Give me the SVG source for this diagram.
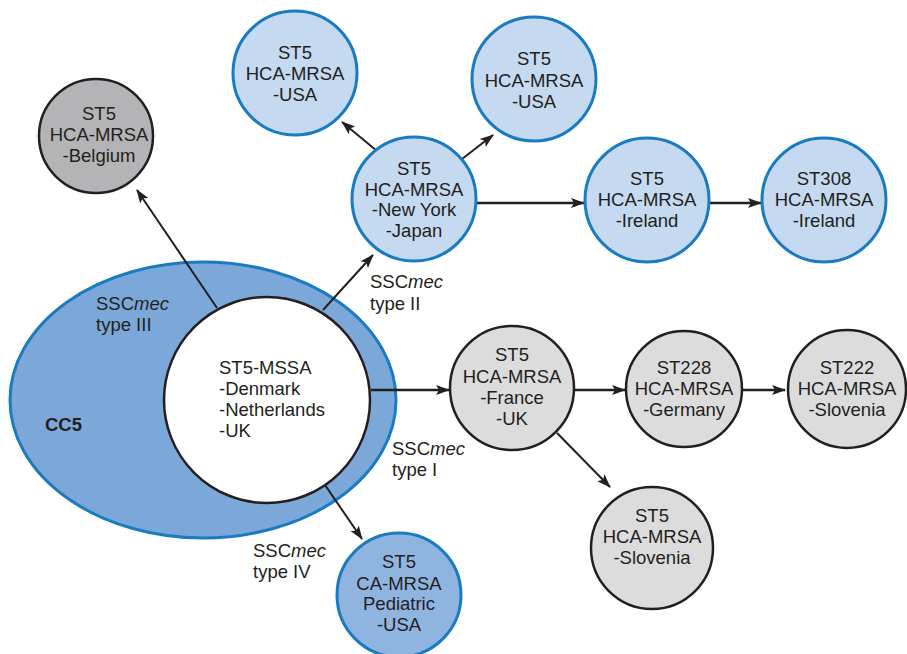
<svg xmlns="http://www.w3.org/2000/svg" width="907" height="654" viewBox="0 0 907 654">
  <style>
    text { font-family: "Liberation Sans", Arial, sans-serif; font-size: 18.5px; fill: #231f20; }
    .c { text-anchor: middle; }
    .bold { font-weight: bold; }
    .blue { fill: #c5d9f0; stroke: #1a7bc0; stroke-width: 3; }
    .mid { fill: #8fb4e0; stroke: #1a7bc0; stroke-width: 3; }
    .gray { fill: #dcdcdd; stroke: #231f20; stroke-width: 2.5; }
    .dark { fill: #b4b4b6; stroke: #231f20; stroke-width: 2.5; }
    .edge { stroke: #231f20; stroke-width: 2; fill: none; marker-end: url(#arrow); }
    .thick { stroke-width: 2.6; }
  </style>
  <defs>
    <marker id="arrow" markerUnits="userSpaceOnUse" markerWidth="14" markerHeight="12" viewBox="0 0 14 12" refX="13" refY="6" orient="auto">
      <path d="M0,1 L14,6 L0,11 L3,6 z" fill="#231f20"/>
    </marker>
  </defs>

  <!-- clonal complex 5 envelope -->
  <g id="cc5">
    <ellipse cx="203" cy="400" rx="193" ry="138" fill="#7ba8d9" stroke="#1a7bc0" stroke-width="3"/>
    <text x="45" y="431" class="bold">CC5</text>
    <text x="96" y="310">SSC<tspan font-style="italic">mec</tspan></text>
    <text x="96" y="331">type III</text>
  </g>

  <!-- connectors -->
  <g id="connectors">
    <line class="edge" x1="217" y1="308" x2="137" y2="190"/>
    <line class="edge" x1="323" y1="310" x2="373" y2="255"/>
    <line class="edge" x1="377" y1="151" x2="342" y2="122"/>
    <line class="edge" x1="462" y1="159" x2="493" y2="135"/>
    <line class="edge thick" x1="477" y1="203" x2="584" y2="203"/>
    <line class="edge thick" x1="710" y1="203" x2="761" y2="203"/>
    <line class="edge thick" x1="371" y1="390" x2="449" y2="390"/>
    <line class="edge thick" x1="575" y1="390" x2="625" y2="390"/>
    <line class="edge thick" x1="741" y1="390" x2="785" y2="390"/>
    <line class="edge" x1="557" y1="433" x2="610" y2="487"/>
    <line class="edge" x1="325" y1="485" x2="362" y2="539"/>
  </g>

  <!-- connector labels -->
  <g id="labels">
    <text x="370" y="288">SSC<tspan font-style="italic">mec</tspan></text>
    <text x="370" y="310">type II</text>
    <text x="392" y="455">SSC<tspan font-style="italic">mec</tspan></text>
    <text x="392" y="476">type I</text>
    <text x="253" y="557">SSC<tspan font-style="italic">mec</tspan></text>
    <text x="253" y="578">type IV</text>
  </g>

  <g id="mssa">
    <circle cx="267" cy="400" r="103" fill="#ffffff" stroke="#231f20" stroke-width="2.5"/>
    <text x="219" y="374">ST5-MSSA</text>
    <text x="219" y="395">-Denmark</text>
    <text x="219" y="416">-Netherlands</text>
    <text x="219" y="437">-UK</text>
  </g>

  <g id="belgium">
    <circle class="dark" cx="96" cy="136" r="57"/>
    <text class="c" x="99" y="120">ST5</text>
    <text class="c" x="99" y="141">HCA-MRSA</text>
    <text class="c" x="99" y="162">-Belgium</text>
  </g>

  <g id="usa-left">
    <circle class="blue" cx="295" cy="73" r="62"/>
    <text class="c" x="295" y="59">ST5</text>
    <text class="c" x="295" y="80">HCA-MRSA</text>
    <text class="c" x="295" y="101">-USA</text>
  </g>

  <g id="usa-right">
    <circle class="blue" cx="534" cy="79" r="62"/>
    <text class="c" x="534" y="65">ST5</text>
    <text class="c" x="534" y="87">HCA-MRSA</text>
    <text class="c" x="534" y="108">-USA</text>
  </g>

  <g id="newyork-japan">
    <circle class="blue" cx="414" cy="199" r="62"/>
    <text class="c" x="414" y="175">ST5</text>
    <text class="c" x="414" y="196">HCA-MRSA</text>
    <text class="c" x="414" y="216">-New York</text>
    <text class="c" x="414" y="237">-Japan</text>
  </g>

  <g id="ireland-st5">
    <circle class="blue" cx="647" cy="200" r="62"/>
    <text class="c" x="647" y="185">ST5</text>
    <text class="c" x="647" y="206">HCA-MRSA</text>
    <text class="c" x="647" y="227">-Ireland</text>
  </g>

  <g id="ireland-st308">
    <circle class="blue" cx="824" cy="200" r="62"/>
    <text class="c" x="824" y="185">ST308</text>
    <text class="c" x="824" y="206">HCA-MRSA</text>
    <text class="c" x="824" y="227">-Ireland</text>
  </g>

  <g id="france-uk">
    <circle class="gray" cx="512" cy="388" r="62"/>
    <text class="c" x="512" y="361">ST5</text>
    <text class="c" x="512" y="383">HCA-MRSA</text>
    <text class="c" x="512" y="404">-France</text>
    <text class="c" x="512" y="425">-UK</text>
  </g>

  <g id="germany">
    <circle class="gray" cx="684" cy="389" r="58"/>
    <text class="c" x="684" y="374">ST228</text>
    <text class="c" x="684" y="395">HCA-MRSA</text>
    <text class="c" x="684" y="416">-Germany</text>
  </g>

  <g id="slovenia-st222">
    <circle class="gray" cx="847" cy="389" r="59"/>
    <text class="c" x="847" y="374">ST222</text>
    <text class="c" x="847" y="395">HCA-MRSA</text>
    <text class="c" x="847" y="416">-Slovenia</text>
  </g>

  <g id="slovenia-st5">
    <circle class="gray" cx="652" cy="548" r="61"/>
    <text class="c" x="652" y="522">ST5</text>
    <text class="c" x="652" y="543">HCA-MRSA</text>
    <text class="c" x="652" y="564">-Slovenia</text>
  </g>

  <g id="pediatric-usa">
    <circle class="mid" cx="399" cy="595" r="62"/>
    <text class="c" x="399" y="568">ST5</text>
    <text class="c" x="399" y="590">CA-MRSA</text>
    <text class="c" x="399" y="610">Pediatric</text>
    <text class="c" x="399" y="631">-USA</text>
  </g>
</svg>
